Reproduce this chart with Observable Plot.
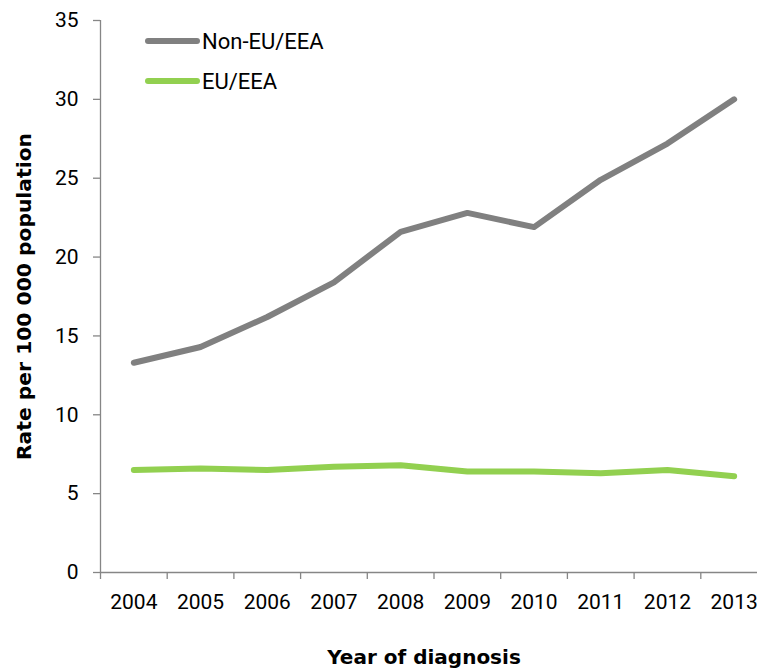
<!DOCTYPE html>
<html>
<head>
<meta charset="utf-8">
<script src="https://cdn.jsdelivr.net/npm/d3@7"></script>
<script src="https://cdn.jsdelivr.net/npm/@observablehq/plot@0.6"></script>
<style>
  html, body { margin: 0; padding: 0; background: #fff; overflow: hidden; }
  #wrap { position: relative; width: 757px; height: 670px; }
  #legend { position: absolute; left: 145px; top: 24px; font-family: Roboto, sans-serif; font-size: 22px; color: #000; }
  .item { display: flex; align-items: center; height: 34px; margin-bottom: 6px; }
  .swatch { width: 55px; height: 6px; border-radius: 3px; margin-right: 2px; }
</style>
</head>
<body>
<div id="wrap"></div>
<script>
const years = [2004, 2005, 2006, 2007, 2008, 2009, 2010, 2011, 2012, 2013];
const nonEU = [13.3, 14.3, 16.2, 18.4, 21.6, 22.8, 21.9, 24.9, 27.2, 30.0];
const eu = [6.5, 6.6, 6.5, 6.7, 6.8, 6.4, 6.4, 6.3, 6.5, 6.1];
const yTicks = [0, 5, 10, 15, 20, 25, 30, 35];
const seriesNames = ["Non-EU/EEA", "EU/EEA"];
const seriesColors = ["#808080", "#92d050"];
const xTitle = "Year of diagnosis";
const yTitle = "Rate per 100 000 population";

const data = years.flatMap((yr, i) => [
  {year: yr, rate: nonEU[i], series: seriesNames[0]},
  {year: yr, rate: eu[i], series: seriesNames[1]}
]);
const boundaries = years.map(y => y - 0.5);
const axisColor = "#868686";
const titleFont = "'DejaVu Sans', sans-serif";

const chart = Plot.plot({
  width: 757,
  height: 670,
  marginLeft: 100,
  marginRight: 0,
  marginTop: 20,
  marginBottom: 98,
  x: {type: "linear", domain: [years[0] - 0.5, years[years.length - 1] + 0.5], range: [100, 767]},
  y: {domain: [0, 35], range: [572, 20]},
  color: {domain: seriesNames, range: seriesColors},
  style: {fontFamily: "Roboto, sans-serif", fontSize: "21px", color: "#000", background: "#fff", overflow: "visible"},
  marks: [
    Plot.ruleY([0], {stroke: axisColor, strokeWidth: 1.3}),
    Plot.ruleX([years[0] - 0.5], {stroke: axisColor, strokeWidth: 1.3}),
    Plot.axisY({ticks: yTicks, tickSize: 7, tickPadding: 15, stroke: axisColor, strokeWidth: 1.3, fill: "#000", label: null}),
    Plot.axisX({ticks: boundaries, tickSize: 7, tickFormat: () => "", stroke: axisColor, strokeWidth: 1.3, label: null}),
    Plot.axisX({ticks: years, tickSize: 0, tickPadding: 22, tickFormat: d => String(d), fill: "#000", label: null}),
    Plot.line(data, {x: "year", y: "rate", z: "series", stroke: "series", strokeWidth: 6, strokeLinecap: "round", strokeLinejoin: "round"}),
    Plot.text([xTitle], {frameAnchor: "bottom", dy: 85, dx: -5, textAnchor: "middle", fontWeight: "bold", fontFamily: titleFont, fontSize: 20, fill: "#000", lineAnchor: "middle"}),
    Plot.text([yTitle], {frameAnchor: "left", dx: -76, textAnchor: "middle", rotate: -90, fontWeight: "bold", fontFamily: titleFont, fontSize: 20.3, fill: "#000", lineAnchor: "middle"})
  ]
});

const wrap = document.getElementById("wrap");
wrap.appendChild(chart);

const legend = document.createElement("div");
legend.id = "legend";
seriesNames.forEach((name, i) => {
  const item = document.createElement("div");
  item.className = "item";
  const sw = document.createElement("span");
  sw.className = "swatch";
  sw.style.background = seriesColors[i];
  const label = document.createElement("span");
  label.textContent = name;
  item.appendChild(sw);
  item.appendChild(label);
  legend.appendChild(item);
});
wrap.appendChild(legend);
</script>
</body>
</html>
